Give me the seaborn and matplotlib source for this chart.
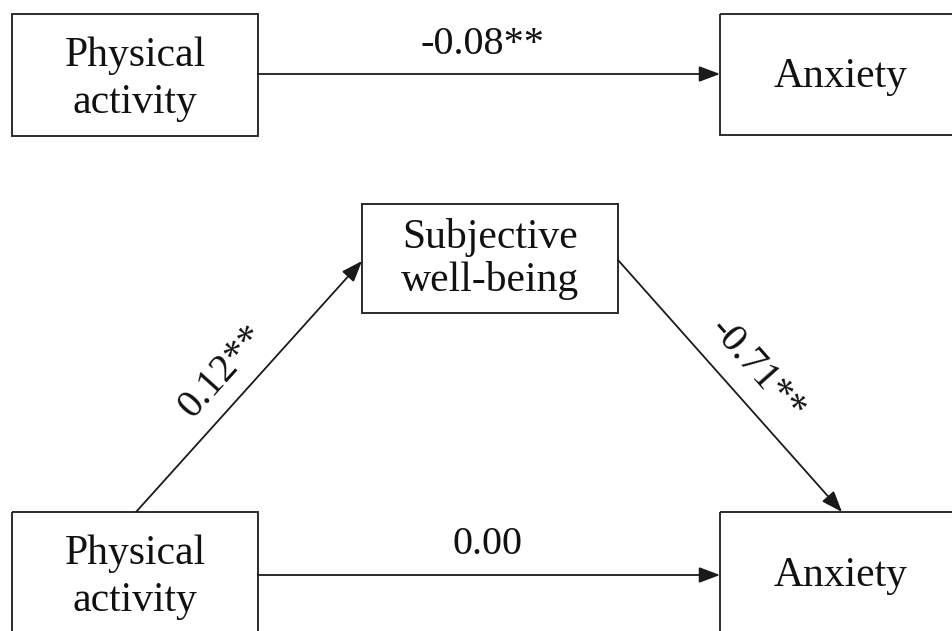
import matplotlib
matplotlib.use("Agg")
import matplotlib.pyplot as plt
import seaborn as sns
from matplotlib.patches import Rectangle

sns.set_theme(style="white")
plt.rcParams['font.family'] = ['Liberation Serif', 'DejaVu Serif']

# ---- data ----
node_names = ["Physical\nactivity", "Anxiety", "Subjective\nwell-being",
              "Physical\nactivity", "Anxiety"]
path_labels = ["-0.08**", "0.12**", "-0.71**", "0.00"]

# ---- layout (pixel coordinates, y downward) ----
W, H = 953, 631
boxes = [  # x0, y0, x1, y1
    (12, 14, 258, 136),
    (720, 14, 962, 135),
    (362, 204, 618, 313),
    (12, 512, 258, 700),
    (720, 512, 962, 700),
]
text_pos = [(135, 79), (841, 77), (490, 259), (135, 577), (841, 576)]
text_ls = [1.3, 1.2, 1.15, 1.3, 1.2]

arrows = [  # start, end
    ((258, 74), (720, 74)),
    ((136, 512), (362, 261)),
    ((618, 260), (842, 512)),
    ((258, 575), (720, 575)),
]
label_pos = [(482, 44), (222, 372), (757, 370), (488, 545)]
label_rot = [0, 48, -48.5, 0]

fig = plt.figure(figsize=(W / 100, H / 100), dpi=100)
ax = fig.add_axes([0, 0, 1, 1])
ax.set_xlim(0, W)
ax.set_ylim(H, 0)
ax.axis("off")

edge = "#2b2b2b"
for (x0, y0, x1, y1), name, (tx, ty), ls in zip(boxes, node_names, text_pos, text_ls):
    ax.add_patch(Rectangle((x0, y0), x1 - x0, y1 - y0, fill=False,
                           edgecolor=edge, linewidth=1.4, clip_on=True))
    ax.text(tx, ty, name, ha="center", va="center", fontsize=30,
            color="#111111", linespacing=ls)

for (s, e) in arrows:
    ax.annotate("", xy=e, xytext=s,
                arrowprops=dict(arrowstyle="-|>,head_length=0.8,head_width=0.3",
                                color="#1a1a1a", lw=1.3, shrinkA=0, shrinkB=0,
                                mutation_scale=16))

for lab, (lx, ly), rot in zip(path_labels, label_pos, label_rot):
    ax.text(lx, ly, lab, ha="center", va="center", fontsize=29,
            color="#111111", rotation=rot, rotation_mode="anchor")

fig.savefig("out.png", dpi=100, facecolor="white")
